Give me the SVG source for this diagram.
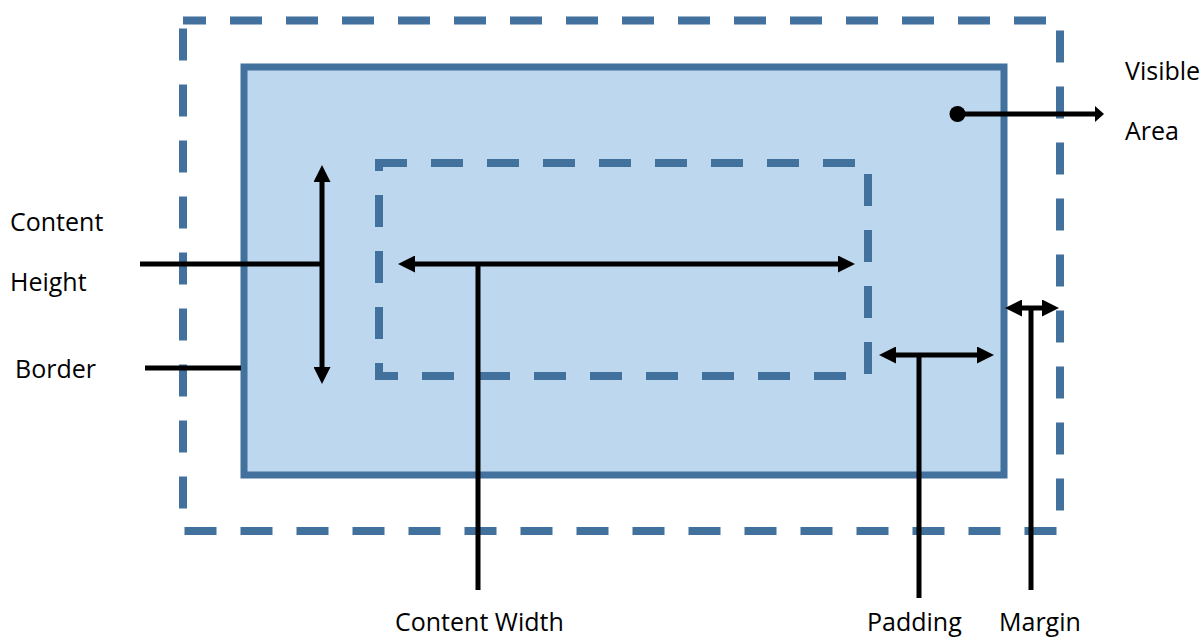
<svg xmlns="http://www.w3.org/2000/svg" width="1203" height="638" viewBox="0 0 1203 638">
  <style>
    .box-dash { fill: none; stroke: #41719C; stroke-width: 8; stroke-dasharray: 32 24; }
    .box-solid { fill: #BDD7EE; stroke: #41719C; stroke-width: 7; }
    .wire { fill: none; stroke: #000; stroke-width: 5; }
    .label { font-family: "Open Sans", "Liberation Sans", sans-serif; font-size: 25px; fill: #000; }
  </style>
  <defs>
    <marker id="head" markerUnits="userSpaceOnUse" markerWidth="17" markerHeight="17" refX="7" refY="8.5" orient="auto-start-reverse" viewBox="0 0 17 17">
      <path d="M0,0 L17,8.5 L0,17 z" fill="#000"/>
    </marker>
    <marker id="head-small" markerUnits="userSpaceOnUse" markerWidth="9" markerHeight="16" refX="3" refY="8" orient="auto" viewBox="0 0 9 16">
      <path d="M0,0 L9,8 L0,16 z" fill="#000"/>
    </marker>
  </defs>

  <!-- margin edge (outer dashed box) -->
  <g id="margin-box">
    <rect class="box-dash" x="183" y="20.5" width="877" height="510.5" stroke-dashoffset="9"/>
  </g>

  <!-- border box with padding area fill -->
  <g id="border-box">
    <rect class="box-solid" x="244" y="67" width="760" height="408"/>
  </g>

  <!-- content edge (inner dashed box) -->
  <g id="content-box">
    <rect class="box-dash" x="379" y="163" width="489" height="213" stroke-dashoffset="4"/>
  </g>

  <!-- connectors -->
  <g id="connectors">
    <!-- content height -->
    <line class="wire" x1="322" y1="175" x2="322" y2="374" marker-start="url(#head)" marker-end="url(#head)"/>
    <line class="wire" x1="140" y1="264" x2="322" y2="264"/>
    <!-- content width -->
    <line class="wire" x1="408" y1="264" x2="845" y2="264" marker-start="url(#head)" marker-end="url(#head)"/>
    <line class="wire" x1="478" y1="264" x2="478" y2="590"/>
    <!-- padding -->
    <line class="wire" x1="889" y1="355" x2="984" y2="355" marker-start="url(#head)" marker-end="url(#head)"/>
    <line class="wire" x1="919" y1="355" x2="919" y2="598"/>
    <!-- margin -->
    <line class="wire" x1="1015" y1="308" x2="1049" y2="308" marker-start="url(#head)" marker-end="url(#head)"/>
    <line class="wire" x1="1031" y1="308" x2="1031" y2="590"/>
    <!-- border -->
    <line class="wire" x1="145" y1="368" x2="241" y2="368"/>
    <!-- visible area -->
    <circle cx="957.5" cy="114" r="8" fill="#000"/>
    <line class="wire" x1="957.5" y1="114" x2="1098" y2="114" marker-end="url(#head-small)"/>
  </g>

  <!-- labels -->
  <g id="label-content-height">
    <text class="label" x="10" y="231">Content</text>
    <text class="label" x="10" y="291">Height</text>
  </g>
  <g id="label-border">
    <text class="label" x="15" y="378">Border</text>
  </g>
  <g id="label-visible-area">
    <text class="label" x="1125" y="80">Visible</text>
    <text class="label" x="1125" y="140">Area</text>
  </g>
  <g id="label-content-width">
    <text class="label" x="395" y="631">Content Width</text>
  </g>
  <g id="label-padding">
    <text class="label" x="867" y="631">Padding</text>
  </g>
  <g id="label-margin">
    <text class="label" x="999" y="631">Margin</text>
  </g>
</svg>
